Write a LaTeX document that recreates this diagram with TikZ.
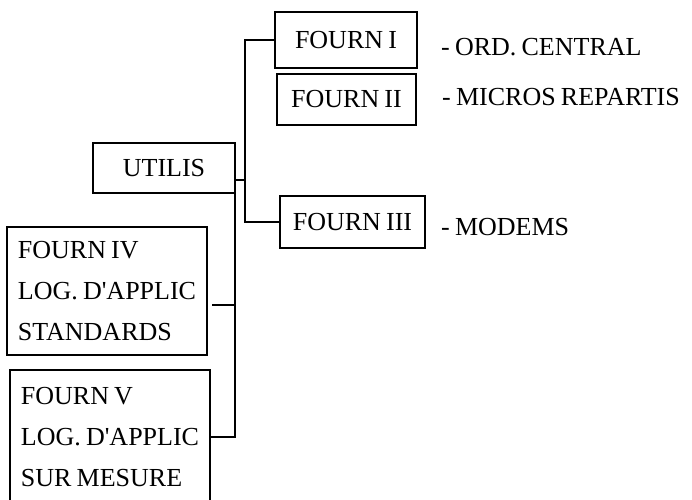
\documentclass[tikz,border=0pt]{standalone}
\usepackage{fontspec}
\setmainfont[WordSpace=0.8]{Liberation Serif}
\frenchspacing
\begin{document}
\begin{tikzpicture}[x=1pt,y=-1pt,
  every node/.style={font=\fontsize{26}{41}\selectfont},
  box/.style={draw, line width=1.2pt, inner sep=0pt, outer sep=0pt},
  multibox/.style={box, align=left},
  lbl/.style={inner sep=0pt, anchor=west},
  conn/.style={line width=1.2pt}]
\useasboundingbox (0,0) rectangle (692,499);
\clip (0,0) rectangle (692,499);

\node[box, minimum width=142pt, minimum height=56pt] (F1) at (346,40) {FOURN I};
\node[box, minimum width=139pt, minimum height=51pt] (F2) at (346.5,99.5) {FOURN II};
\node[box, minimum width=145pt, minimum height=52pt] (F3) at (352.5,222) {FOURN III};
\node[box, minimum width=142pt, minimum height=50pt] (U) at (164,168) {UTILIS};
\node[multibox, minimum width=200pt, minimum height=128pt] (F4) at (107,291)
  {FOURN IV\\LOG. D\textquotesingle APPLIC\\STANDARDS};
\node[multibox, minimum width=200pt, minimum height=134pt] (F5) at (110,437)
  {FOURN V\\LOG. D\textquotesingle APPLIC\\SUR MESURE};

\node[lbl] (L1) at (441,47) {- ORD. CENTRAL};
\node[lbl] (L2) at (442,97) {- MICROS REPARTIS};
\node[lbl] (L3) at (441,227) {- MODEMS};

\coordinate (uj) at (245,180);
\coordinate (c4) at (235,305);
\draw[conn] (U.east |- uj) -- (uj);
\draw[conn] (F1.west) -| (uj) |- (F3.west);
\draw[conn] (U.south east) |- (F5.east);
\draw[conn] (c4) -- ([xshift=5pt]c4 -| F4.east);
\end{tikzpicture}
\end{document}
